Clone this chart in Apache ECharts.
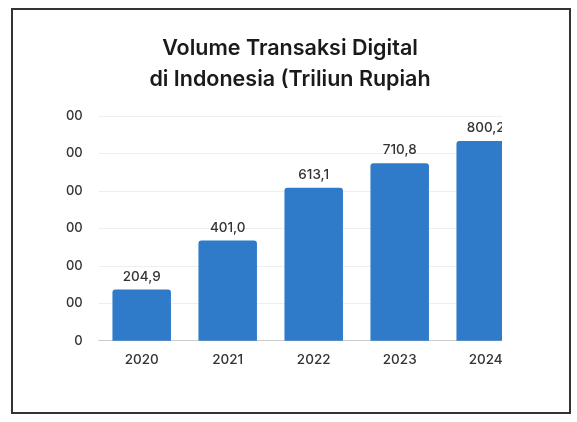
<!DOCTYPE html>
<html>
<head>
<meta charset="utf-8">
<script src="https://cdn.jsdelivr.net/npm/echarts@6/dist/echarts.min.js"></script>
<style>
  html, body { margin: 0; padding: 0; background: #fff; width: 577px; height: 422px; overflow: hidden; }
  #clip { position: absolute; left: 0; top: 0; width: 502px; height: 422px; overflow: hidden; }
  #chart { position: absolute; left: 0; top: 0; width: 577px; height: 422px; }
  #frame { position: absolute; left: 11px; top: 8px; width: 560px; height: 406px; box-sizing: border-box; border: 2px solid #333; pointer-events: none; }
</style>
</head>
<body>
<div id="clip"><div id="chart"></div></div>
<div id="frame"></div>
<script>
const titleText = 'Volume Transaksi Digital\ndi Indonesia (Triliun Rupiah';
const years = ['2020', '2021', '2022', '2023', '2024'];
const volumes = [204.9, 401.0, 613.1, 710.8, 800.2];
const yTickLabels = ['0', '00', '00', '00', '00', '00', '00'];
const yStep = 150;

const chart = echarts.init(document.getElementById('chart'), null, { renderer: 'canvas' });
const FONT = 'Inter, "Noto Sans", sans-serif';
chart.setOption({
  animation: false,
  backgroundColor: '#fff',
  title: {
    text: titleText,
    left: 285,
    top: 28,
    textAlign: 'center',
    textStyle: { fontFamily: FONT, fontSize: 21.5, fontWeight: 600, color: '#1a1a1a', lineHeight: 31, align: 'center' }
  },
  grid: { left: 98.7, top: 116, width: 430, height: 224.7, containLabel: false },
  xAxis: {
    type: 'category',
    data: years,
    axisLine: { lineStyle: { color: '#cccccc', width: 1 } },
    axisTick: { show: false },
    axisLabel: { fontFamily: FONT, fontSize: 13.5, fontWeight: 500, color: '#333', margin: 12 }
  },
  yAxis: {
    type: 'value',
    min: 0,
    max: yStep * (yTickLabels.length - 1),
    interval: yStep,
    axisLine: { show: false },
    axisTick: { show: false },
    splitLine: { lineStyle: { color: '#eeeeee', width: 1 } },
    axisLabel: {
      fontFamily: FONT, fontSize: 13, fontWeight: 500, color: '#333', margin: 16,
      formatter: v => yTickLabels[Math.round(v / yStep)] ?? ''
    }
  },
  series: [{
    type: 'bar',
    data: volumes,
    barWidth: 58.5,
    itemStyle: { color: '#2f7bca', borderRadius: [3, 3, 0, 0] },
    label: {
      show: true,
      position: 'top',
      distance: 6,
      fontFamily: FONT,
      fontSize: 13.5,
      fontWeight: 500,
      color: '#333',
      formatter: p => p.value.toFixed(1).replace('.', ',')
    }
  }]
});
</script>
</body>
</html>
